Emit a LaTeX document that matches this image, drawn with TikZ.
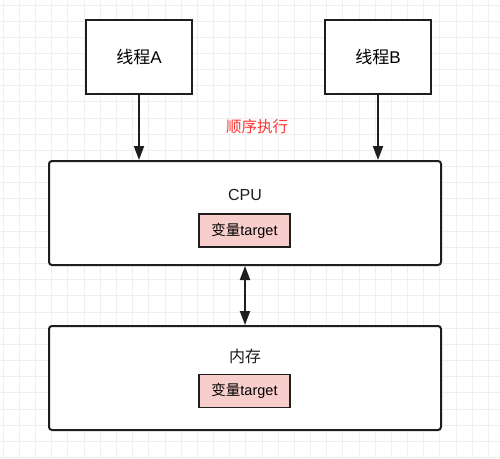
\documentclass[tikz,border=0pt]{standalone}
\usepackage{fontspec}
\setmainfont{Liberation Sans}
\newfontfamily\cjk{Noto Sans CJK SC}
\usetikzlibrary{arrows.meta,positioning}
\definecolor{gridgray}{HTML}{EFEFEF}
\definecolor{linegray}{HTML}{1E1E1E}
\definecolor{varpink}{HTML}{F8CECC}
\definecolor{ordred}{HTML}{FF3333}

\tikzset{
  thrbox/.style={draw=linegray, line width=2pt, fill=white, minimum width=106pt, minimum height=74pt, font=\fontsize{17}{19}\selectfont},
  unitbox/.style={draw=linegray, line width=2pt, fill=white, rounded corners=3pt, minimum width=392pt, minimum height=104pt},
  varbox/.style={draw=linegray, line width=1.6pt, fill=varpink, minimum width=91pt, minimum height=33pt, font=\fontsize{14.5}{16}\selectfont},
  lbl/.style={font=\fontsize{16}{18}\selectfont, text=linegray},
  arr/.style={draw=linegray, line width=2pt, -{Triangle[length=14pt,width=10pt]}},
}

\begin{document}
\begin{tikzpicture}[x=1pt,y=-1pt]
     \useasboundingbox (0,0) rectangle (500,458);
     \fill[white] (0,0) rectangle (500,458);
     % background grid
     \foreach \i in {0,...,30} {\draw[gridgray, line width=1pt] (3.3+16.17*\i,0) -- (3.3+16.17*\i,458);}
     \foreach \j in {0,...,28} {\draw[gridgray, line width=1pt] (0,5+16.16*\j) -- (500,5+16.16*\j);}

     % threads
     \node[thrbox] (thrA) at (139,57) {{\cjk 线程}A};
     \node[thrbox] (thrB) at (378,57) {{\cjk 线程}B};

     \node[font=\cjk\fontsize{15.5}{17}\selectfont, text=ordred] (order) at (257,127) {顺序执行};

     % cpu and memory
     \node[unitbox] (cpu) at (245,213) {};
     \node[lbl] (cpuLbl) at (245,195) {CPU};
     \node[varbox] (varC) at (244.5,230.5) {{\cjk 变量}target};

     \node[unitbox] (mem) at (245,378) {};
     \node[lbl, font=\cjk\fontsize{16}{18}\selectfont] (memLbl) at (245,356) {内存};
     \node[varbox] (varM) at (244.5,391) {{\cjk 变量}target};

     \draw[arr] (thrA.south) -- (thrA.south |- cpu.north);
     \draw[arr] (thrB.south) -- (thrB.south |- cpu.north);
     \draw[arr, {Triangle[length=14pt,width=10pt]}-{Triangle[length=14pt,width=10pt]}] (cpu.south) -- (mem.north);
\end{tikzpicture}
\end{document}
